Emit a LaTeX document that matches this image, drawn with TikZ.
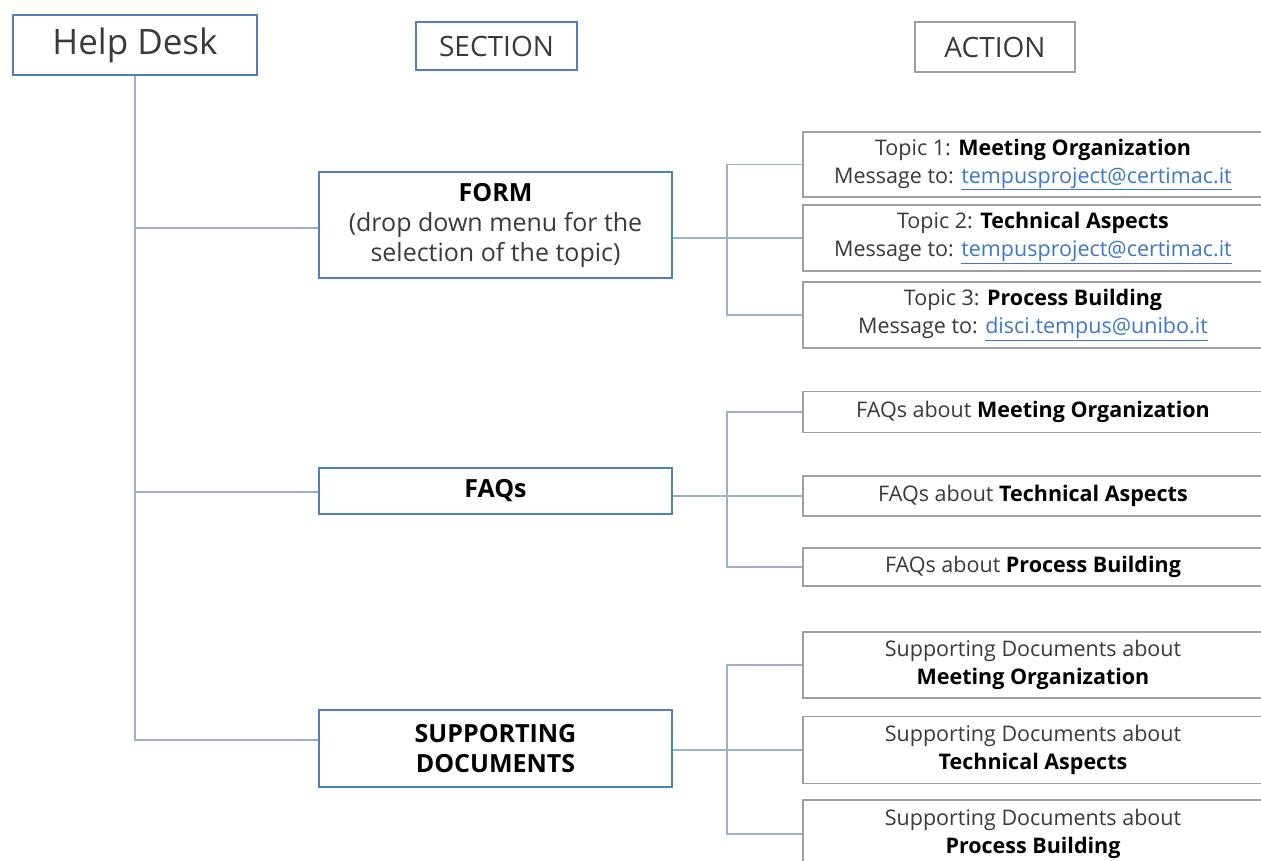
\documentclass[tikz,border=0pt]{standalone}
\usepackage{fontspec}
\setmainfont{Open Sans}
\definecolor{boxblue}{HTML}{4F7FBF}
\definecolor{linegray}{HTML}{A0A0A0}
\definecolor{conncol}{HTML}{9AB0CC}
\definecolor{linkblue}{HTML}{3E78C8}
\definecolor{txt}{HTML}{3A3A3A}
\newcommand\hb[1]{\textbf{\color{black}#1}}
\newcommand\lk[1]{\textcolor{linkblue}{\underline{#1}}}
\begin{document}
\begin{tikzpicture}[x=1pt,y=-1pt,
  secbox/.style={draw=boxblue, line width=1.5pt, fill=white, align=center, inner sep=0pt, text=txt},
  actbox/.style={draw=linegray, line width=1.3pt, fill=white, align=center, inner sep=0pt, text=txt,
                 minimum width=460pt, font=\fontsize{21.5}{28}\selectfont},
  conn/.style={draw=conncol, line width=1.2pt}]
\useasboundingbox[fill=white] (0,0) rectangle (1261,861);
% header
\node[secbox, minimum width=244pt, minimum height=60pt, font=\fontsize{35}{40}\selectfont] (help) at (135,45) {Help Desk};
\node[secbox, minimum width=161pt, minimum height=48pt, font=\fontsize{28}{30}\selectfont] (sec) at (496.5,46) {SECTION};
\node[secbox, draw=linegray, minimum width=160pt, minimum height=50pt, font=\fontsize{28}{30}\selectfont] (act) at (995,47) {ACTION};
% sections
\node[secbox, minimum width=353pt, minimum height=106pt, font=\fontsize{25}{30}\selectfont] (form) at (495.5,225)
  {\hb{FORM}\\(drop down menu for the\\selection of the topic)};
\node[secbox, minimum width=353pt, minimum height=46pt, font=\fontsize{25}{30}\selectfont] (faqs) at (495.5,491) {\hb{FAQs}};
\node[secbox, minimum width=353pt, minimum height=77pt, font=\fontsize{25}{30}\selectfont] (supp) at (495.5,748.5)
  {\hb{SUPPORTING}\\\hb{DOCUMENTS}};
% actions: form
\node[actbox, minimum height=65pt] (t1) at (1033,164.5) {Topic 1: \hb{Meeting Organization}\\Message to: \lk{tempusproject@certimac.it}};
\node[actbox, minimum height=66pt] (t2) at (1033,238) {Topic 2: \hb{Technical Aspects}\\Message to: \lk{tempusproject@certimac.it}};
\node[actbox, minimum height=66pt] (t3) at (1033,315) {Topic 3: \hb{Process Building}\\Message to: \lk{disci.tempus@unibo.it}};
% actions: faqs
\node[actbox, minimum height=41pt] (f1) at (1033,412) {FAQs about \hb{Meeting Organization}};
\node[actbox, minimum height=40pt] (f2) at (1033,496) {FAQs about \hb{Technical Aspects}};
\node[actbox, minimum height=38pt] (f3) at (1033,567) {FAQs about \hb{Process Building}};
% actions: supporting documents
\node[actbox, minimum height=66pt] (s1) at (1033,665) {Supporting Documents about\\\hb{Meeting Organization}};
\node[actbox, minimum height=67pt] (s2) at (1033,750) {Supporting Documents about\\\hb{Technical Aspects}};
\node[actbox, minimum height=68pt] (s3) at (1033,834) {Supporting Documents about\\\hb{Process Building}};
% junctions
\coordinate (ja) at (727,238);
\coordinate (jb) at (727,496);
\coordinate (jc) at (727,750);
% connectors left
\draw[conn] (help.south) |- ([yshift=-3pt]form.west);
\draw[conn] (help.south) |- ([yshift=-1pt]faqs.west);
\draw[conn] (help.south) |- ([yshift=8.5pt]supp.west);
% connectors right
\draw[conn] ([yshift=-13pt]form.east) -- (ja) -- (t2.west);
\draw[conn] (t1.west) -| (ja) |- (t3.west);
\draw[conn] ([yshift=-5pt]faqs.east) -- (jb) -- (f2.west);
\draw[conn] (f1.west) -| (jb) |- (f3.west);
\draw[conn] ([yshift=-1.5pt]supp.east) -- (jc) -- (s2.west);
\draw[conn] (s1.west) -| (jc) |- (s3.west);
\end{tikzpicture}
\end{document}
